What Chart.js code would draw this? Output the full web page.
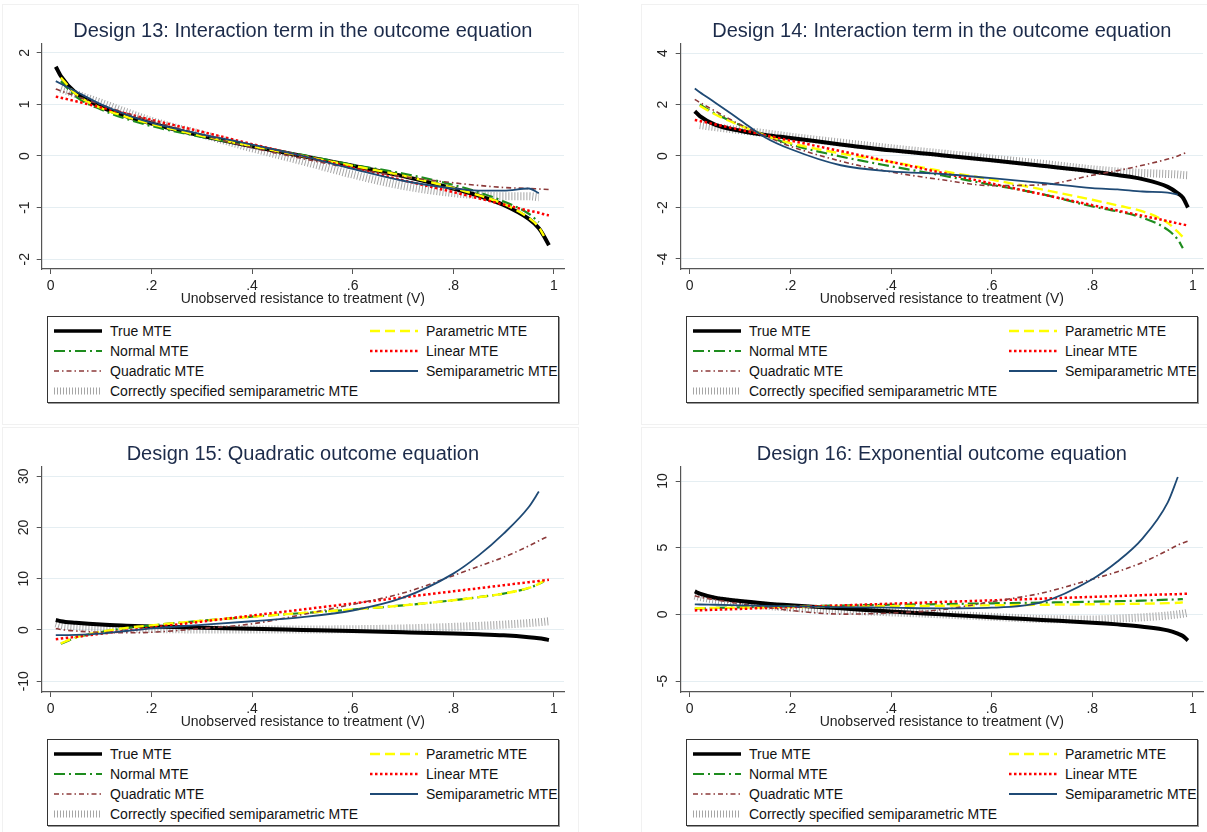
<!DOCTYPE html>
<html>
<head>
<meta charset="utf-8">
<script src="https://cdn.jsdelivr.net/npm/chart.js@4.4.1/dist/chart.umd.min.js"></script>
<style>
  html, body { margin: 0; padding: 0; background: #fff; overflow: hidden; width: 1207px; height: 832px; }
  body { position: relative; font-family: "Liberation Sans", Arial, sans-serif; }
  .panel { position: absolute; width: 580px; height: 422px; }
  .frame { position: absolute; border: 1px solid #f1f1f1; }
  .panel canvas { position: absolute; left: 0; top: 0; }
  .legend { position: absolute; left: 47px; top: 316px; width: 510px; height: 85px; border: 1px solid #333; box-shadow: 1px 1px 0 #999; background: #fff; }
  .item { position: absolute; height: 20px; font-size: 14px; color: #111; line-height: 20px; white-space: nowrap; }
  .item svg { position: absolute; top: 4px; }
  .item span { position: absolute; top: 0; }
</style>
</head>
<body>
<script>
// ---------------- DATA ----------------
const V = [0.01, 0.02, 0.05, 0.1, 0.15, 0.2, 0.3, 0.4, 0.5, 0.6, 0.7, 0.8, 0.85, 0.9, 0.95, 0.97, 0.98, 0.99];

const xTicks = [0, 0.2, 0.4, 0.6, 0.8, 1];
const xTickLabels = ['0', '.2', '.4', '.6', '.8', '1'];
const xAxisTitle = 'Unobserved resistance to treatment (V)';

const seriesNames = ['True MTE', 'Parametric MTE', 'Normal MTE', 'Linear MTE', 'Quadratic MTE', 'Semiparametric MTE', 'Correctly specified semiparametric MTE'];

// Design 13
const d13Title = 'Design 13: Interaction term in the outcome equation';
const d13YTicks = [-2, -1, 0, 1, 2];
const d13True  = [1.73, 1.55, 1.22, 0.95, 0.77, 0.63, 0.39, 0.19, 0.0, -0.19, -0.39, -0.63, -0.77, -0.95, -1.22, -1.40, -1.55, -1.73];
const d13Param = [null, 1.52, 1.20, 0.93, 0.76, 0.62, 0.39, 0.19, 0.0, -0.19, -0.38, -0.62, -0.76, -0.93, -1.20, -1.38, -1.55, null];
const d13Norm  = [null, 1.45, 1.15, 0.90, 0.72, 0.58, 0.37, 0.19, 0.02, -0.17, -0.34, -0.56, -0.70, -0.88, -1.12, -1.28, null, null];
const d13Lin   = [1.15, 1.13, 1.06, 0.94, 0.82, 0.70, 0.47, 0.23, 0.0, -0.23, -0.47, -0.70, -0.82, -0.94, -1.06, -1.10, -1.13, -1.15];
const d13Quad  = [1.30, 1.26, 1.16, 0.99, 0.83, 0.68, 0.41, 0.16, -0.05, -0.24, -0.40, -0.52, -0.57, -0.61, -0.63, -0.64, -0.645, -0.65];
const d13Semi  = [1.45, 1.40, 1.25, 1.00, 0.80, 0.64, 0.42, 0.22, 0.0, -0.25, -0.48, -0.63, -0.67, -0.67, -0.63, -0.72, null, null];
const d13Corr  = [null, 1.30, 1.20, 1.03, 0.85, 0.68, 0.42, 0.15, -0.10, -0.36, -0.58, -0.72, -0.76, -0.78, -0.78, -0.80, null, null];

// Design 14
const d14Title = 'Design 14: Interaction term in the outcome equation';
const d14YTicks = [-4, -2, 0, 2, 4];
const d14True  = [1.74, 1.55, 1.22, 0.98, 0.82, 0.70, 0.45, 0.22, 0.03, -0.17, -0.38, -0.60, -0.74, -0.90, -1.20, -1.45, -1.62, -2.00];
const d14Param = [null, 1.95, 1.62, 1.18, 0.80, 0.50, 0.10, -0.23, -0.58, -0.92, -1.30, -1.70, -1.92, -2.15, -2.60, -2.95, -3.15, null];
const d14Norm  = [null, 2.00, 1.65, 1.20, 0.80, 0.45, -0.02, -0.40, -0.75, -1.12, -1.48, -1.96, -2.15, -2.40, -2.87, -3.25, -3.58, null];
const d14Lin   = [1.40, 1.36, 1.23, 1.02, 0.81, 0.60, 0.19, -0.23, -0.65, -1.07, -1.49, -1.91, -2.12, -2.32, -2.53, -2.62, -2.66, -2.70];
const d14Quad  = [2.20, 2.08, 1.75, 1.22, 0.78, 0.38, -0.20, -0.62, -0.92, -1.15, -1.12, -0.75, -0.57, -0.36, -0.12, 0.00, 0.08, 0.15];
const d14Semi  = [2.62, 2.48, 2.08, 1.40, 0.72, 0.27, -0.36, -0.60, -0.70, -0.86, -1.05, -1.25, -1.30, -1.38, -1.42, -1.50, null, null];
const d14Corr  = [null, 1.20, 1.12, 1.00, 0.88, 0.75, 0.52, 0.30, 0.10, -0.10, -0.30, -0.52, -0.60, -0.66, -0.70, -0.72, -0.74, -0.75];

// Design 15
const d15Title = 'Design 15: Quadratic outcome equation';
const d15YTicks = [-10, 0, 10, 20, 30];
const d15True  = [1.95, 1.70, 1.40, 1.05, 0.85, 0.70, 0.45, 0.22, 0.0, -0.22, -0.45, -0.70, -0.85, -1.05, -1.40, -1.60, -1.75, -1.95];
const d15Param = [null, -2.60, -1.45, -0.35, 0.40, 0.90, 1.80, 2.60, 3.30, 4.00, 4.80, 5.80, 6.40, 7.10, 8.20, 9.00, 9.60, null];
const d15Norm  = [null, -2.70, -1.50, -0.40, 0.35, 0.90, 1.80, 2.60, 3.30, 4.00, 4.80, 5.80, 6.40, 7.10, 8.20, 9.00, 9.50, null];
const d15Lin   = [-1.80, -1.68, -1.33, -0.73, -0.14, 0.45, 1.63, 2.82, 4.00, 5.18, 6.37, 7.55, 8.14, 8.74, 9.33, 9.56, 9.68, 9.80];
const d15Quad  = [0.30, 0.10, -0.20, -0.45, -0.55, -0.45, 0.30, 1.20, 3.00, 5.00, 7.20, 10.60, 12.40, 14.20, 16.40, 17.40, 17.90, 18.30];
const d15Semi  = [-1.00, -1.00, -0.95, -0.70, -0.20, 0.30, 1.00, 1.70, 2.50, 3.80, 6.30, 11.00, 14.50, 18.80, 24.00, 27.00, null, null];
const d15Corr  = [1.30, 1.00, 0.70, 0.45, 0.30, 0.20, 0.10, 0.10, 0.10, 0.15, 0.30, 0.60, 0.80, 1.05, 1.35, 1.50, 1.60, 1.70];

// Design 16
const d16Title = 'Design 16: Exponential outcome equation';
const d16YTicks = [-5, 0, 5, 10];
const d16True  = [1.72, 1.55, 1.25, 1.00, 0.82, 0.68, 0.45, 0.22, 0.0, -0.22, -0.42, -0.62, -0.75, -0.92, -1.20, -1.45, -1.62, -1.95];
const d16Param = [0.45, 0.46, 0.48, 0.50, 0.53, 0.55, 0.58, 0.62, 0.65, 0.68, 0.72, 0.76, 0.78, 0.80, 0.84, 0.87, 0.90, null];
const d16Norm  = [0.42, 0.44, 0.48, 0.53, 0.57, 0.60, 0.66, 0.72, 0.77, 0.83, 0.88, 0.95, 0.99, 1.03, 1.10, 1.13, 1.15, null];
const d16Lin   = [0.30, 0.31, 0.35, 0.41, 0.48, 0.54, 0.67, 0.80, 0.93, 1.05, 1.18, 1.31, 1.37, 1.44, 1.50, 1.52, 1.54, 1.55];
const d16Quad  = [1.40, 1.30, 1.10, 0.80, 0.55, 0.30, 0.02, 0.10, 0.35, 0.95, 1.60, 2.64, 3.20, 3.90, 4.80, 5.20, 5.35, 5.50];
const d16Semi  = [0.75, 0.74, 0.72, 0.68, 0.64, 0.60, 0.55, 0.50, 0.45, 0.50, 0.92, 2.64, 3.96, 5.70, 8.40, 10.30, null, null];
const d16Corr  = [1.40, 1.30, 1.10, 0.85, 0.65, 0.50, 0.30, 0.15, 0.00, -0.18, -0.35, -0.38, -0.32, -0.22, -0.08, 0.00, 0.05, 0.12];

// ---------------- STYLES ----------------
const FONT = '"Liberation Sans", Arial, sans-serif';
const styles = [
  { color: '#000000', width: 4,   dash: [],            order: 6 },   // True
  { color: '#ffff00', width: 2.4, dash: [10, 5],        order: 4 },   // Parametric
  { color: '#1e8c1e', width: 2.2, dash: [11, 4, 2, 4],  order: 5 },   // Normal
  { color: '#ff0000', width: 2.5, dash: [2.5, 2.5],     order: 3 },   // Linear
  { color: '#8c3a3a', width: 1.6, dash: [5, 3, 1.5, 3], order: 2 },   // Quadratic
  { color: '#1f4a75', width: 1.8, dash: [],            order: 1 },   // Semiparametric
  { color: '#a6a6a6', width: 8,   dash: [1, 2],         order: 7 }    // Correct
];

function pts(arr) {
  return V.map((x, i) => ({ x: x, y: arr[i] })).filter(p => p.y !== null);
}

function makePanel(left, top, title, yTicks, yMin, yMax, tickPad, series) {
  const panel = document.createElement('div');
  panel.className = 'panel';
  panel.style.left = left + 'px';
  panel.style.top = top + 'px';
  document.body.appendChild(panel);

  const frame = document.createElement('div');
  frame.className = 'frame';
  frame.style.left = '2px'; frame.style.top = '4px';
  frame.style.width = '575px'; frame.style.height = '419px';
  panel.appendChild(frame);

  const canvas = document.createElement('canvas');
  canvas.width = 580; canvas.height = 310;
  canvas.style.width = '580px'; canvas.style.height = '310px';
  panel.appendChild(canvas);

  const datasets = series.map((arr, k) => ({
    label: seriesNames[k],
    data: pts(arr),
    borderColor: styles[k].color,
    borderWidth: styles[k].width,
    borderDash: styles[k].dash,
    borderCapStyle: 'butt',
    borderJoinStyle: 'round',
    pointRadius: 0,
    fill: false,
    cubicInterpolationMode: 'monotone',
    order: styles[k].order
  }));

  new Chart(canvas, {
    type: 'line',
    data: { datasets: datasets },
    options: {
      responsive: false,
      animation: false,
      devicePixelRatio: 1,
      layout: { padding: { left: 0, right: 16, top: 0, bottom: 1 } },
      plugins: {
        legend: { display: false },
        tooltip: { enabled: false },
        title: {
          display: true, text: title, fullSize: false,
          color: '#1c2b4a',
          font: { family: FONT, size: 20, weight: 'normal' },
          padding: { top: 19, bottom: 1 }
        }
      },
      scales: {
        x: {
          type: 'linear', min: -0.018, max: 1.02,
          afterBuildTicks: a => { a.ticks = xTicks.map(v => ({ value: v })); },
          afterFit: s => { s.height = 40; },
          ticks: {
            autoSkip: false, maxRotation: 0, padding: 3.5,
            color: '#222', font: { family: FONT, size: 14 },
            callback: v => { const i = xTicks.indexOf(v); return i >= 0 ? xTickLabels[i] : ''; }
          },
          grid: { drawOnChartArea: false, tickLength: 5, tickColor: '#555', color: '#555' },
          border: { color: '#555', width: 1.2 },
          title: { display: true, text: xAxisTitle, color: '#222', font: { family: FONT, size: 14 }, padding: { top: 0, bottom: 1 } }
        },
        y: {
          type: 'linear', min: yMin, max: yMax,
          afterBuildTicks: a => { a.ticks = yTicks.map(v => ({ value: v })); },
          afterFit: s => { s.width = 41.7; },
          ticks: {
            autoSkip: false, minRotation: 90, maxRotation: 90, crossAlign: 'center', padding: tickPad,
            color: '#222', font: { family: FONT, size: 14 }
          },
          grid: { color: '#e5eef2', lineWidth: 1, tickLength: 5, tickColor: '#555' },
          border: { color: '#555', width: 1.2 }
        }
      }
    }
  });

  // legend (HTML)
  const lg = document.createElement('div');
  lg.className = 'legend';
  panel.appendChild(lg);
  const cells = [
    [0, 0, 0], [1, 1, 0], [2, 0, 1], [3, 1, 1], [4, 0, 2], [5, 1, 2], [6, 0, 3]
  ];
  cells.forEach(([k, col, row]) => {
    const it = document.createElement('div');
    it.className = 'item';
    const symX = col === 0 ? 6 : 322;
    const txtX = col === 0 ? 62 : 378;
    it.style.left = '0px';
    it.style.top = (3.5 + row * 20.3) + 'px';
    it.style.width = '508px';
    const st = styles[k];
    const sw = k === 0 ? 3.5 : (k === 6 ? 7 : st.width);
    const dash = st.dash.length ? st.dash.join(',') : 'none';
    it.innerHTML =
      '<svg width="50" height="12" style="left:' + symX + 'px">' +
      '<line x1="0" y1="6" x2="48" y2="6" stroke="' + st.color + '" stroke-width="' + sw + '" stroke-dasharray="' + dash + '" stroke-linecap="butt"/></svg>' +
      '<span style="left:' + txtX + 'px">' + seriesNames[k] + '</span>';
    lg.appendChild(it);
  });
}

makePanel(0, 0, d13Title, d13YTicks, -2.19, 2.17, 5.5, [d13True, d13Param, d13Norm, d13Lin, d13Quad, d13Semi, d13Corr]);
makePanel(639, 0, d14Title, d14YTicks, -4.39, 4.35, 6.5, [d14True, d14Param, d14Norm, d14Lin, d14Quad, d14Semi, d14Corr]);
makePanel(0, 423, d15Title, d15YTicks, -12.1, 31.8, 2, [d15True, d15Param, d15Norm, d15Lin, d15Quad, d15Semi, d15Corr]);
makePanel(639, 423, d16Title, d16YTicks, -5.82, 11.05, 4.5, [d16True, d16Param, d16Norm, d16Lin, d16Quad, d16Semi, d16Corr]);
</script>
</body>
</html>
